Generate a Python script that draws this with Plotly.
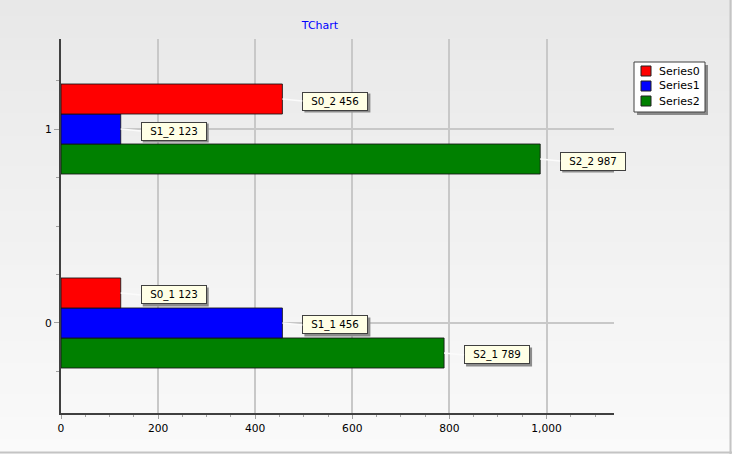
import plotly.graph_objects as go

# ---------------- data ----------------
categories = [0, 1]
cat_labels = ["0", "1"]
series_names = ["Series0", "Series1", "Series2"]
series0 = [123, 456]
series1 = [456, 123]
series2 = [789, 987]
series_values = [series0, series1, series2]
series_colors = ["#ff0000", "#0000ff", "#008000"]
x_tick_vals = [0, 200, 400, 600, 800, 1000]
x_tick_text = ["0", "200", "400", "600", "800", "1,000"]
title_text = "TChart"

# ---------------- geometry ----------------
W, H = 732, 454
ML, MR, MT, MB = 61, 118, 39, 41
PW, PH = W - ML - MR, H - MT - MB


def px(x):
    return (x - ML) / PW


def py(y):
    return (H - MB - y) / PH


FONT = "DejaVu Sans"
BARGAP = 0.536
GW = 1 - BARGAP
NS = len(series_names)
BOX_W, BOX_H = 62, 15

fig = go.Figure()

# add in reverse so Series0 sits on top of each group
order = list(reversed(range(NS)))
annotations = []
shapes = []
for slot, i in enumerate(order):
    vals = series_values[i]
    fig.add_trace(go.Bar(
        x=vals, y=categories, orientation="h", name=series_names[i],
        marker=dict(color=series_colors[i], line=dict(color="rgba(20,20,20,0.85)", width=1)),
        showlegend=False, hoverinfo="x+name",
    ))
    off = -GW / 2 + (slot + 0.5) * GW / NS
    for j, (c, v) in enumerate(zip(categories, vals)):
        txt = f"S{i}_{j + 1} {v}"
        # shadow of the label box (pixel-sized shape anchored at bar end)
        shapes.append(dict(type="rect", xref="x", yref="y", layer="above",
                           xsizemode="pixel", ysizemode="pixel",
                           xanchor=v, yanchor=c + off,
                           x0=20 + 2, x1=20 + 2 + BOX_W + 4,
                           y0=-2 - 2 - (BOX_H + 4) / 2, y1=-2 - 2 + (BOX_H + 4) / 2,
                           line=dict(width=0), fillcolor="#8c8c8c"))
        annotations.append(dict(
            x=v, y=c + off, xref="x", yref="y", text=txt,
            showarrow=True, ax=20, ay=2, axref="pixel", ayref="pixel",
            xanchor="left", yanchor="middle", arrowhead=0, standoff=0,
            width=BOX_W, height=BOX_H, borderpad=1,
            bgcolor="#ffffe6", bordercolor="#404040", borderwidth=1,
            arrowcolor="#fbfbfb", arrowwidth=1.5,
            font=dict(family=FONT, size=10.3, color="#000000")))

# background gradient bands (whole canvas)
N = 60
bg = []
for k in range(N):
    y0 = H * k / N
    y1 = H * (k + 1) / N + 0.8
    g = round(232 + (250 - 232) * (k + 0.5) / N)
    bg.append(dict(type="rect", xref="paper", yref="paper", layer="below",
                   x0=px(-2), x1=px(W + 2), y0=py(y1), y1=py(y0),
                   line=dict(width=0), fillcolor=f"rgb({g},{g},{g})"))
shapes = bg + shapes
# bevel border right / bottom
shapes.append(dict(type="line", xref="paper", yref="paper", layer="above",
                   x0=px(730.5), x1=px(730.5), y0=py(0), y1=py(H),
                   line=dict(color="#c4c4c4", width=2)))
shapes.append(dict(type="line", xref="paper", yref="paper", layer="above",
                   x0=px(0), x1=px(W), y0=py(452.5), y1=py(452.5),
                   line=dict(color="#c4c4c4", width=2)))

# custom legend box
LX0, LX1, LY0, LY1 = 634, 705, 62, 112
shapes.append(dict(type="rect", xref="paper", yref="paper", layer="above",
                   x0=px(LX0 + 3), x1=px(LX1 + 3), y0=py(LY1 + 3), y1=py(LY0 + 3),
                   line=dict(width=0), fillcolor="#8a8a8a"))
shapes.append(dict(type="rect", xref="paper", yref="paper", layer="above",
                   x0=px(LX0), x1=px(LX1), y0=py(LY1), y1=py(LY0),
                   line=dict(color="#404040", width=1), fillcolor="#ffffff"))
for i, (nm, col) in enumerate(zip(series_names, series_colors)):
    cy = 71 + 15 * i
    shapes.append(dict(type="rect", xref="paper", yref="paper", layer="above",
                       x0=px(641), x1=px(651), y0=py(cy + 5), y1=py(cy - 5),
                       line=dict(color="#202020", width=1), fillcolor=col))
    annotations.append(dict(x=px(657), y=py(cy), xref="paper", yref="paper",
                            text=nm, showarrow=False, xanchor="left", yanchor="middle",
                            font=dict(family=FONT, size=11, color="#000000")))

fig.update_layout(
    width=W, height=H,
    margin=dict(l=ML, r=MR, t=MT, b=MB, pad=0),
    paper_bgcolor="#efefef", plot_bgcolor="rgba(0,0,0,0)",
    barmode="group", bargap=BARGAP, bargroupgap=0,
    showlegend=False,
    title=dict(text=title_text, x=320 / W, xref="container", xanchor="center",
               y=1 - 25.5 / H, yref="container", yanchor="middle",
               font=dict(family=FONT, size=11, color="#0000ff")),
    xaxis=dict(range=[0, 1139], tickvals=x_tick_vals, ticktext=x_tick_text,
               showgrid=True, gridcolor="#c8c8c8", gridwidth=1.6,
               zeroline=False, showline=True, linecolor="#404040", linewidth=2,
               ticks="outside", ticklen=4, tickcolor="#a0a0a0", tickwidth=1,
               minor=dict(dtick=50, tick0=0, ticks="outside", ticklen=2,
                          tickcolor="#a0a0a0", showgrid=False),
               tickfont=dict(family=FONT, size=10.7, color="#000000"), fixedrange=True),
    yaxis=dict(range=[-0.464, 1.464], tickvals=categories, ticktext=cat_labels,
               showgrid=True, gridcolor="#c8c8c8", gridwidth=1.6,
               zeroline=False, showline=True, linecolor="#404040", linewidth=2,
               ticks="outside", ticklen=5, tickcolor="#a0a0a0", tickwidth=1,
               minor=dict(dtick=0.25, tick0=0, ticks="outside", ticklen=3,
                          tickcolor="#a0a0a0", showgrid=False),
               tickfont=dict(family=FONT, size=10.7, color="#000000"), fixedrange=True),
    shapes=shapes,
    annotations=annotations,
)

fig.write_html("out.html", config={"displayModeBar": False},
               post_script="document.body.style.margin='0';document.body.style.overflow='hidden';")
